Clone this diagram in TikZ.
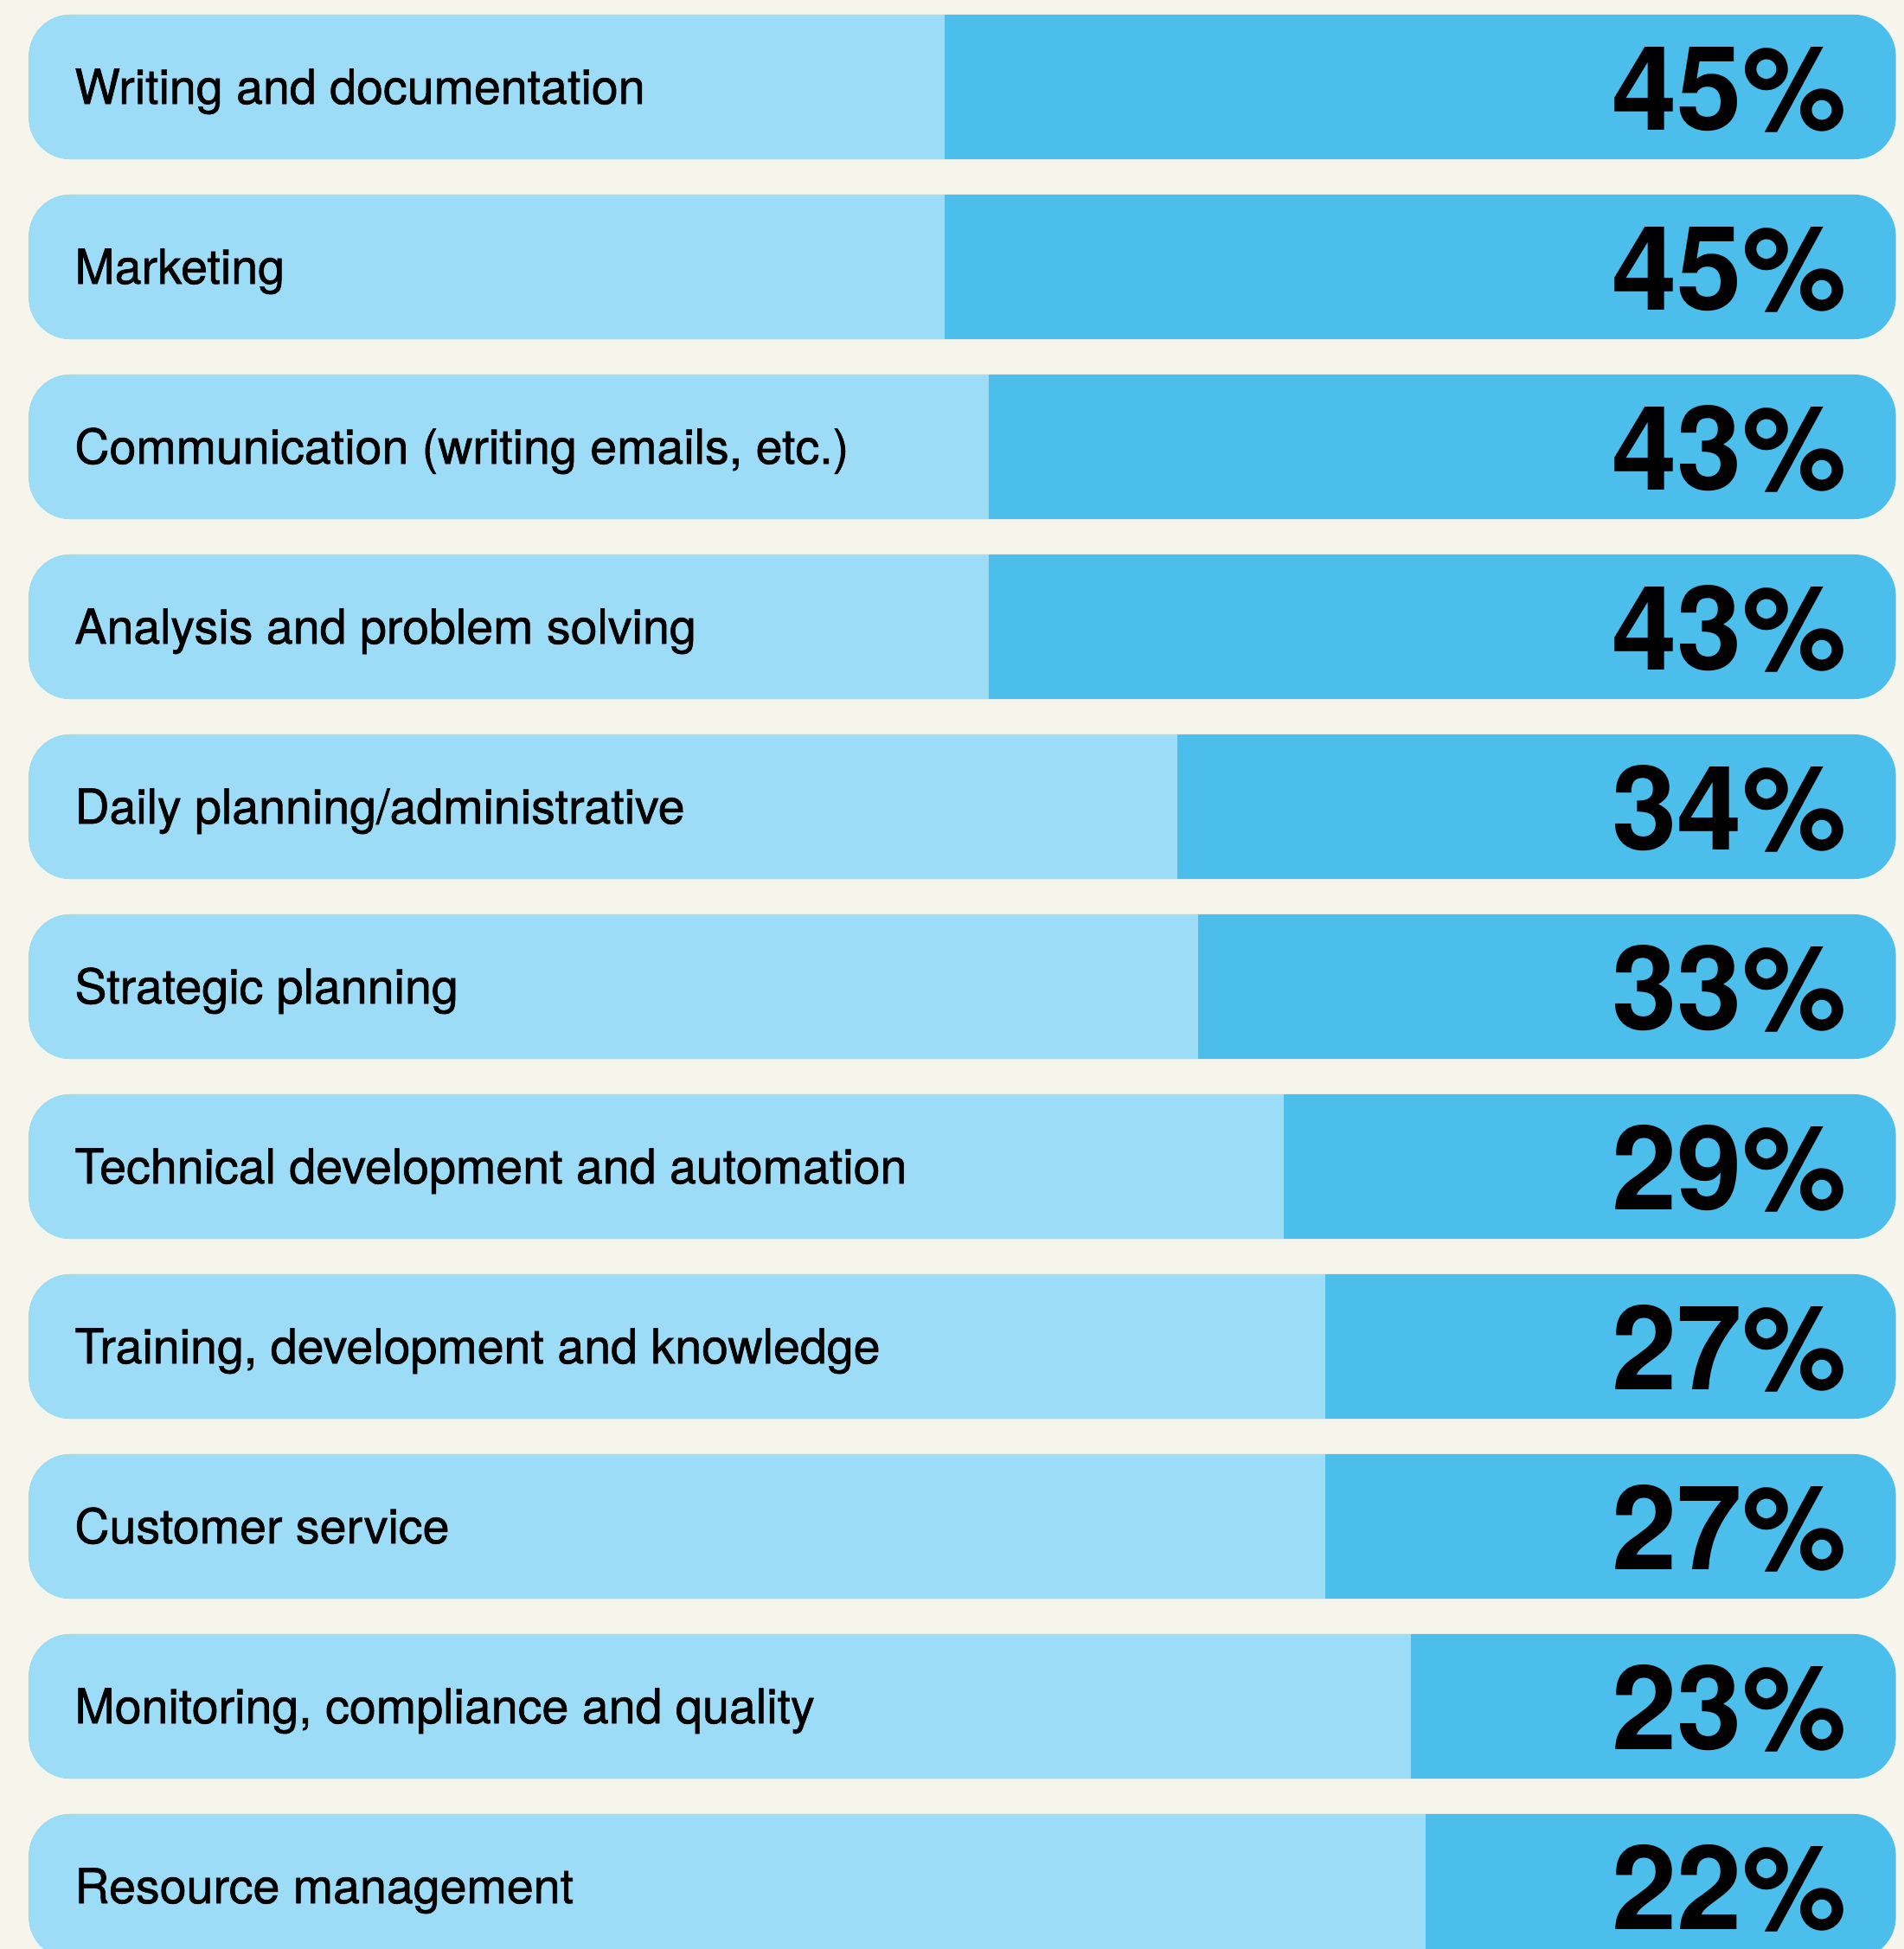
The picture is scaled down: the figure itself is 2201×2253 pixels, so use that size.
\documentclass[tikz,border=0pt]{standalone}
\usepackage{fontspec}
\setmainfont{TeX Gyre Heros}
\newfontfamily\tasksfont[FakeBold=1.1]{TeX Gyre Heros}
\usetikzlibrary{positioning}

\definecolor{paper}{RGB}{246,245,235}
\definecolor{lightblue}{RGB}{157,220,247}
\definecolor{darkblue}{RGB}{75,190,235}

\tikzset{
  barbox/.style={fill=darkblue, rounded corners=0.48cm, minimum width=21.57cm,
    minimum height=1.67cm, inner sep=0pt,
    path picture={\fill[lightblue, sharp corners] (path picture bounding box.south west) rectangle ([xshift=#1]path picture bounding box.north west);}},
  tasklabel/.style={anchor=base west, inner sep=0pt, font=\tasksfont\fontsize{15.8}{18}\selectfont},
  pctlabel/.style={anchor=base east, inner sep=0pt, font=\fontsize{38.5}{44}\selectfont\bfseries}
}

\begin{document}
\begin{tikzpicture}[x=0.01cm, y=-0.01cm]

  \clip (0, 0) rectangle (2201, 2253);
  \fill [paper] (0, 0) rectangle (2201, 2253);

  \node [barbox=10.58cm] (bar1) at (1112.5, 100.5) {};
  \node [barbox=10.58cm] (bar2) at (1112.5, 308.5) {};
  \node [barbox=11.09cm] (bar3) at (1112.5, 516.5) {};
  \node [barbox=11.09cm] (bar4) at (1112.5, 724.5) {};
  \node [barbox=13.27cm] (bar5) at (1112.5, 932.5) {};
  \node [barbox=13.51cm] (bar6) at (1112.5, 1140.5) {};
  \node [barbox=14.50cm] (bar7) at (1112.5, 1348.5) {};
  \node [barbox=14.98cm] (bar8) at (1112.5, 1556.5) {};
  \node [barbox=14.98cm] (bar9) at (1112.5, 1764.5) {};
  \node [barbox=15.97cm] (bar10) at (1112.5, 1972.5) {};
  \node [barbox=16.14cm] (bar11) at (1112.5, 2180.5) {};

  \node [tasklabel] (task1) at ([xshift=0.53cm, yshift=-0.195cm]bar1.west) {Writing and documentation};
  \node [tasklabel] (task2) at ([xshift=0.53cm, yshift=-0.195cm]bar2.west) {Marketing};
  \node [tasklabel] (task3) at ([xshift=0.53cm, yshift=-0.195cm]bar3.west) {Communication (writing emails, etc.)};
  \node [tasklabel] (task4) at ([xshift=0.53cm, yshift=-0.195cm]bar4.west) {Analysis and problem solving};
  \node [tasklabel] (task5) at ([xshift=0.53cm, yshift=-0.195cm]bar5.west) {Daily planning/administrative};
  \node [tasklabel] (task6) at ([xshift=0.53cm, yshift=-0.195cm]bar6.west) {Strategic planning};
  \node [tasklabel] (task7) at ([xshift=0.53cm, yshift=-0.195cm]bar7.west) {Technical development and automation};
  \node [tasklabel] (task8) at ([xshift=0.53cm, yshift=-0.195cm]bar8.west) {Training, development and knowledge};
  \node [tasklabel] (task9) at ([xshift=0.53cm, yshift=-0.195cm]bar9.west) {Customer service};
  \node [tasklabel] (task10) at ([xshift=0.53cm, yshift=-0.195cm]bar10.west) {Monitoring, compliance and quality};
  \node [tasklabel] (task11) at ([xshift=0.53cm, yshift=-0.195cm]bar11.west) {Resource management};

  \node [pctlabel] (pct1) at ([xshift=-0.57cm, yshift=-0.495cm]bar1.east) {45\%};
  \node [pctlabel] (pct2) at ([xshift=-0.57cm, yshift=-0.495cm]bar2.east) {45\%};
  \node [pctlabel] (pct3) at ([xshift=-0.57cm, yshift=-0.495cm]bar3.east) {43\%};
  \node [pctlabel] (pct4) at ([xshift=-0.57cm, yshift=-0.495cm]bar4.east) {43\%};
  \node [pctlabel] (pct5) at ([xshift=-0.57cm, yshift=-0.495cm]bar5.east) {34\%};
  \node [pctlabel] (pct6) at ([xshift=-0.57cm, yshift=-0.495cm]bar6.east) {33\%};
  \node [pctlabel] (pct7) at ([xshift=-0.57cm, yshift=-0.495cm]bar7.east) {29\%};
  \node [pctlabel] (pct8) at ([xshift=-0.57cm, yshift=-0.495cm]bar8.east) {27\%};
  \node [pctlabel] (pct9) at ([xshift=-0.57cm, yshift=-0.495cm]bar9.east) {27\%};
  \node [pctlabel] (pct10) at ([xshift=-0.57cm, yshift=-0.495cm]bar10.east) {23\%};
  \node [pctlabel] (pct11) at ([xshift=-0.57cm, yshift=-0.495cm]bar11.east) {22\%};

\end{tikzpicture}
\end{document}
